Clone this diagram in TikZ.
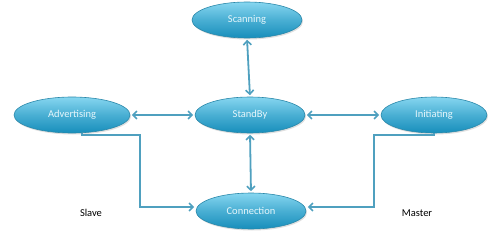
\documentclass[tikz,border=0pt]{standalone}
\usepackage{fontspec}
\setmainfont{Carlito}
\usetikzlibrary{arrows.meta,shapes.geometric,shadows}
\definecolor{elltop}{HTML}{86D6F0}
\definecolor{ellbot}{HTML}{178EBB}
\definecolor{ellline}{HTML}{2A88AA}
\definecolor{conn}{HTML}{4FA0BF}
\definecolor{etext}{HTML}{E6F6FB}
\tikzset{
  state/.style={ellipse, minimum width=110pt, minimum height=36pt, inner sep=0pt,
    top color=elltop, bottom color=ellbot, middle color=ellbot!55!elltop,
    draw=ellline, line width=0.6pt, text=etext, font=\fontsize{10.5}{12}\selectfont,
    drop shadow={opacity=0.25, shadow xshift=1pt, shadow yshift=-1.5pt}},
  tip/.tip={Straight Barb[length=4pt,width=8pt,line width=1.6pt]},
  link/.style={draw=conn, line width=1.8pt, shorten >=1.5pt, shorten <=1.5pt, tip-tip},
  onelink/.style={draw=conn, line width=1.8pt, shorten >=1.5pt, -tip},
  side/.style={font=\fontsize{10.5}{12}\selectfont, text=black}
}
\begin{document}
\begin{tikzpicture}[x=1pt,y=1pt]
\useasboundingbox[fill=white] (0,0) rectangle (499,239);
\node[state] (scan) at (247,219) {Scanning};
\node[state, minimum width=116pt] (adv) at (72,124) {Advertising};
\node[state] (stand) at (250,124) {StandBy};
\node[state, minimum width=106pt] (init) at (434,124) {Initiating};
\node[state] (connx) at (251,28) {Connection};
\node[side] (slave) at (91,26) {Slave};
\node[side] (master) at (417,26) {Master};
\coordinate (a1) at (140,104);
\coordinate (a2) at (140,32);
\coordinate (i1) at (374,104);
\coordinate (i2) at (374,32);
\draw[link] (scan.south) -- (stand.north);
\draw[link] (adv.east) -- (stand.west);
\draw[link] (stand.east) -- (init.west);
\draw[link] (stand.south) -- (connx.north);
\draw[onelink] ([xshift=10pt]adv.south) |- (a1) -- (a2) -- (a2 -| connx.west);
\draw[onelink] (init.south) |- (i1) -- (i2) -- (i2 -| connx.east);
\end{tikzpicture}
\end{document}
